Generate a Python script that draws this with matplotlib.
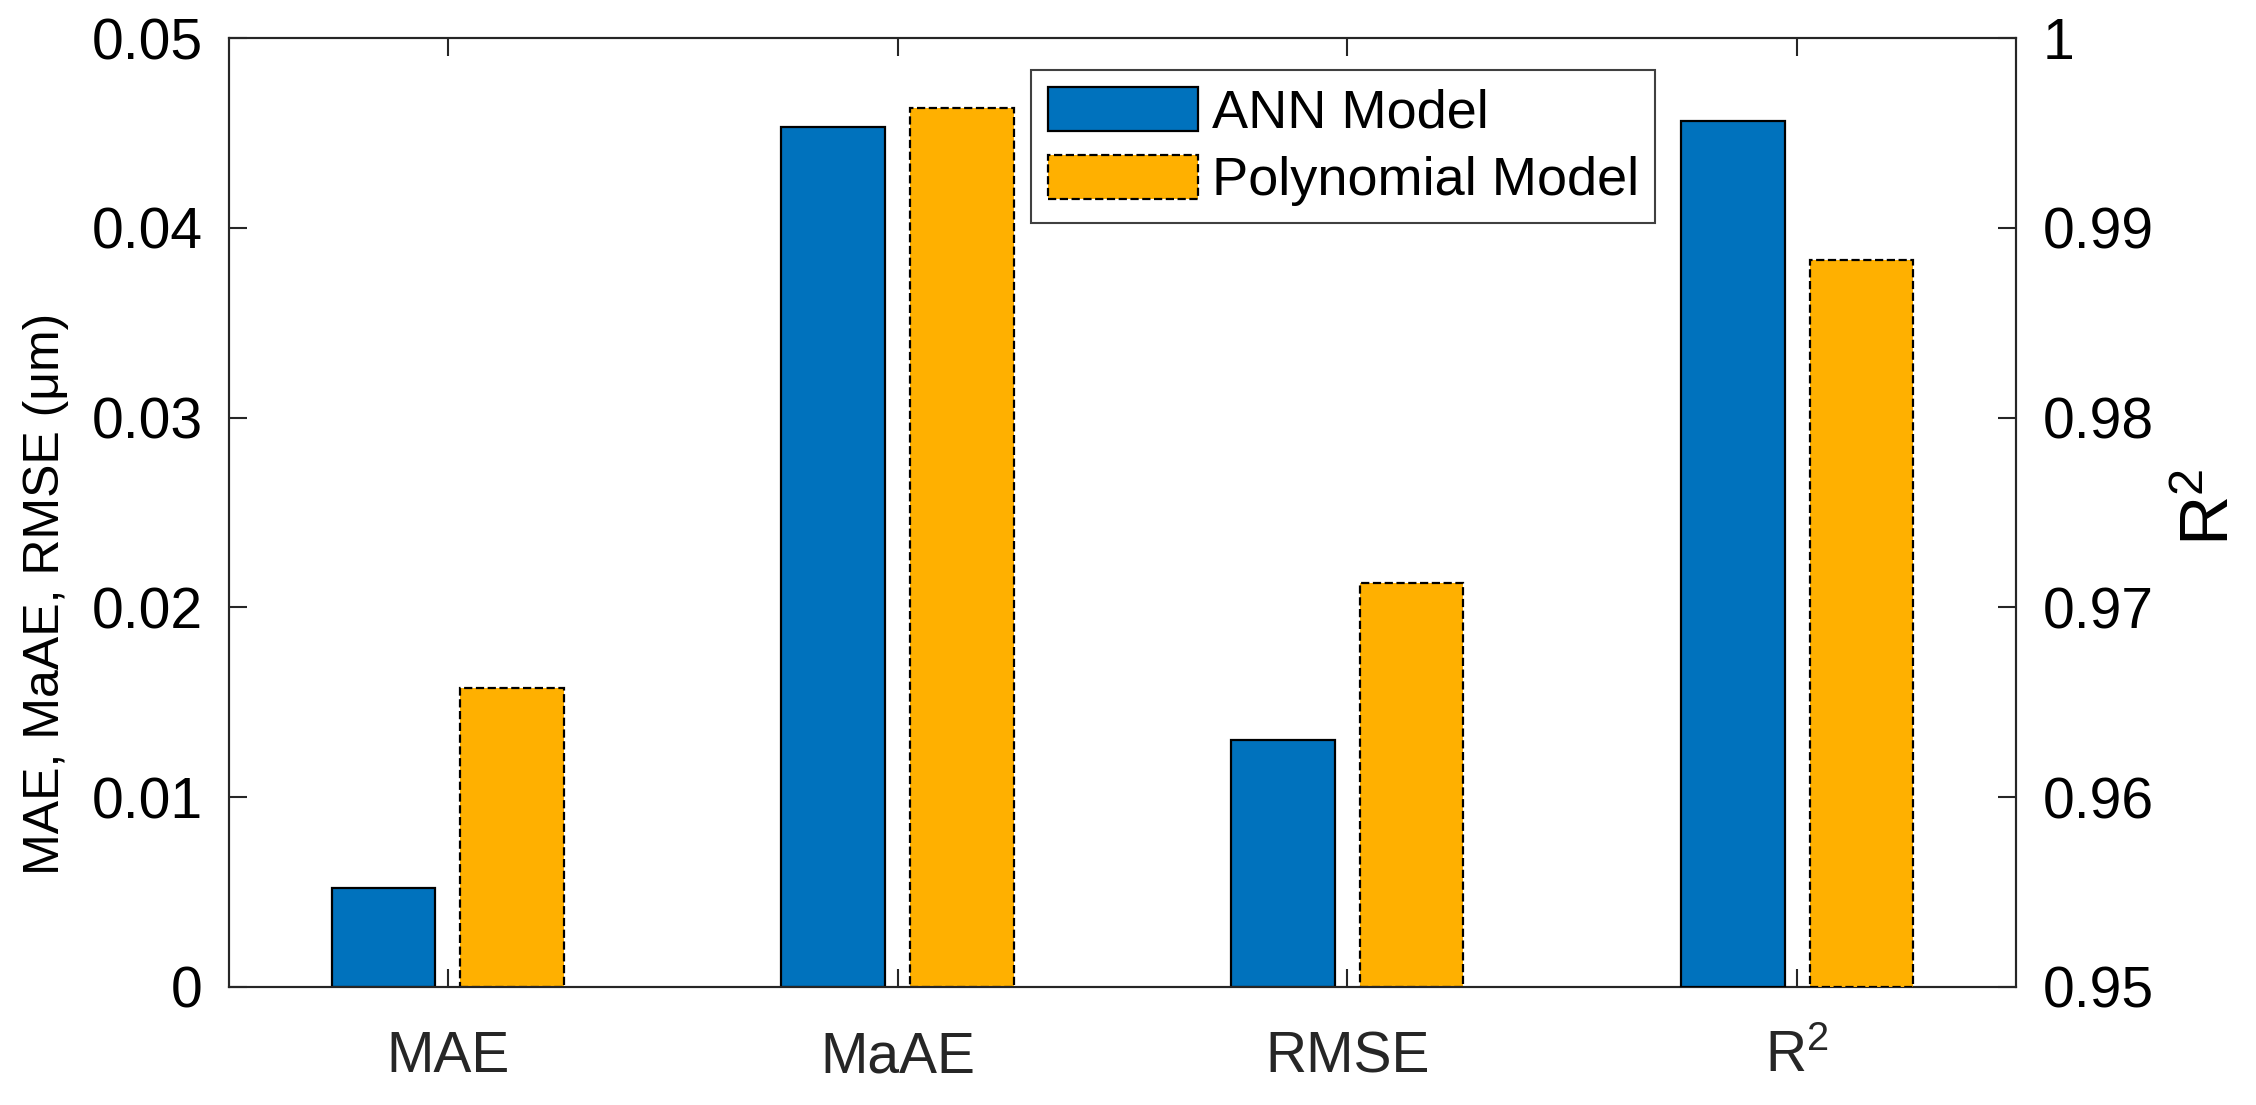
import numpy as np
import matplotlib
matplotlib.use("Agg")
import matplotlib.pyplot as plt

plt.rcParams['font.family'] = ['Liberation Sans', 'DejaVu Sans']
plt.rcParams['mathtext.default'] = 'regular'

# data
categories = ['MAE', 'MaAE', 'RMSE', 'R$^{2}$']
ann_err = [0.00522, 0.04531, 0.01301]
poly_err = [0.01575, 0.04631, 0.02129]
ann_r2 = 0.99563
poly_r2 = 0.98830
left_ticks = [0, 0.01, 0.02, 0.03, 0.04, 0.05]
left_labels = ['0', '0.01', '0.02', '0.03', '0.04', '0.05']
right_ticks = [0.95, 0.96, 0.97, 0.98, 0.99, 1.0]
right_labels = ['0.95', '0.96', '0.97', '0.98', '0.99', '1']

blue = '#0072BD'
orange = '#FFB000'
axcol = '#262626'
fs = 41

fig = plt.figure(figsize=(22.56, 11.05), dpi=100)
ax = fig.add_axes([0.1015, 0.1068, 0.7921, 0.8588])
ax2 = ax.twinx()

x = np.arange(1, len(categories) + 1)
off = 0.143
w = 0.230

b1 = ax.bar(x[:3] - off, ann_err, w, color=blue, edgecolor='black', linewidth=1.6,
            label='ANN Model', zorder=3)
b2 = ax.bar(x[:3] + off, poly_err, w, color=orange, edgecolor='black', linewidth=1.6,
            linestyle='--', label='Polynomial Model', zorder=3)
ax2.bar(x[3] - off, ann_r2 - 0.95, w, bottom=0.95, color=blue, edgecolor='black',
        linewidth=1.6, zorder=3)
ax2.bar(x[3] + off, poly_r2 - 0.95, w, bottom=0.95, color=orange, edgecolor='black',
        linewidth=1.6, linestyle='--', zorder=3)

ax.set_xlim(0.514, 4.486)
ax.set_ylim(0, 0.05)
ax2.set_ylim(0.95, 1.0)

ax.set_xticks(x)
ax.set_xticklabels(categories, fontsize=fs, color=axcol)
ax.set_yticks(left_ticks)
ax.set_yticklabels(left_labels, fontsize=fs)
ax2.set_yticks(right_ticks)
ax2.set_yticklabels(right_labels, fontsize=fs)

ax.tick_params(axis='x', direction='in', length=13, width=1.5, color=axcol,
               pad=31, top=True)
ax.tick_params(axis='y', direction='in', length=13, width=1.5, color=axcol, pad=19)
ax2.tick_params(axis='y', direction='in', length=13, width=1.5, color=axcol, pad=19)

for a in (ax, ax2):
    for s in a.spines.values():
        s.set_linewidth(1.5)
        s.set_color(axcol)

ax.set_ylabel('MAE, MaAE, RMSE (μm)', fontsize=36)
ax.yaxis.set_label_coords(-0.0895, 0.414)
ax2.set_ylabel('R$^{2}$', fontsize=50)
ax2.yaxis.set_label_coords(1.091, 0.506)

leg = ax2.legend(handles=[b1, b2], loc='upper left', bbox_to_anchor=(0.449, 0.966),
                 fontsize=39, frameon=True, fancybox=False, framealpha=1,
                 edgecolor='#404040', handlelength=2.77, handleheight=0.88,
                 handletextpad=0.26, borderpad=0.3, labelspacing=0.3,
                 borderaxespad=0)
leg.get_frame().set_linewidth(1.5)

fig.savefig('out.png', dpi=100)
